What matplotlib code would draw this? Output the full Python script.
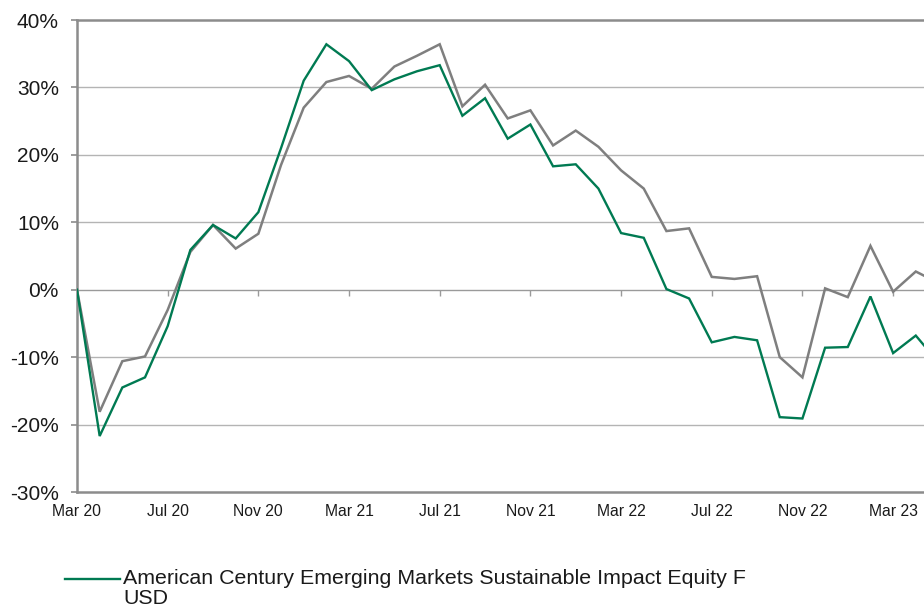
import matplotlib
matplotlib.use("Agg")
import matplotlib.pyplot as plt
from matplotlib.ticker import FuncFormatter, FixedLocator
from matplotlib.legend_handler import HandlerLine2D
from matplotlib.transforms import Affine2D

months = ["Mar 20", "Apr 20", "May 20", "Jun 20", "Jul 20", "Aug 20", "Sep 20", "Oct 20",
          "Nov 20", "Dec 20", "Jan 21", "Feb 21", "Mar 21", "Apr 21", "May 21", "Jun 21",
          "Jul 21", "Aug 21", "Sep 21", "Oct 21", "Nov 21", "Dec 21", "Jan 22", "Feb 22",
          "Mar 22", "Apr 22", "May 22", "Jun 22", "Jul 22", "Aug 22", "Sep 22", "Oct 22",
          "Nov 22", "Dec 22", "Jan 23", "Feb 23", "Mar 23", "Apr 23", "May 23"]

fund = [0, -21.7, -14.5, -13.0, -5.4, 5.9, 9.6, 7.6, 11.5, 21.0, 31.0, 36.4, 33.9, 29.6,
        31.2, 32.4, 33.3, 25.8, 28.4, 22.4, 24.5, 18.3, 18.6, 15.0, 8.4, 7.7, 0.1, -1.3,
        -7.8, -7.0, -7.5, -18.9, -19.1, -8.6, -8.5, -1.0, -9.4, -6.8, -10.8]

benchmark = [0, -18.1, -10.6, -9.9, -3.0, 5.6, 9.6, 6.1, 8.3, 18.5, 27.0, 30.8, 31.7, 29.8,
             33.1, 34.7, 36.4, 27.2, 30.4, 25.4, 26.6, 21.4, 23.6, 21.2, 17.7, 15.0, 8.7, 9.1,
             1.9, 1.6, 2.0, -10.0, -13.0, 0.2, -1.1, 6.5, -0.3, 2.7, 1.0]

fund_label = "American Century Emerging Markets Sustainable Impact Equity F\nUSD"
y_ticks = [-30, -20, -10, 0, 10, 20, 30, 40]

W, H = 924, 608
fig = plt.figure(figsize=(W / 100, H / 100), dpi=100)
left, right, top, bottom = 77, 924, 20, 492
ax = fig.add_axes([left / W, 1 - bottom / H, (right - left) / W, (bottom - top) / H])

x = list(range(len(months)))
px_per_month = 22.67
ax.set_xlim(0, (right - left) / px_per_month)
ax.set_ylim(-30, 40)

grid_c = "#B4B4B4"
axis_c = "#8C8C8C"
for v in y_ticks[1:-1]:
    if v != 0:
        ax.axhline(v, color=grid_c, lw=1.0, zorder=1)
ax.axhline(0, color="#9A9A9A", lw=1.0, zorder=1)

ax.plot(x, benchmark, color="#7F7F7F", lw=1.8, zorder=3, solid_joinstyle="miter")
ax.plot(x, fund, color="#007A52", lw=1.7, zorder=4, solid_joinstyle="miter",
        label=fund_label)

for s in ["left", "bottom", "top"]:
    ax.spines[s].set_color(axis_c)
    ax.spines[s].set_linewidth(1.8)
ax.spines["right"].set_visible(False)

fam = ["Liberation Sans", "DejaVu Sans"]
ax.yaxis.set_major_locator(FixedLocator(y_ticks))
ax.yaxis.set_major_formatter(FuncFormatter(lambda v, p: f"{int(v)}%"))
ax.tick_params(axis="y", length=4, width=1.2, color=axis_c, labelsize=15,
               labelcolor="#1A1A1A", pad=9)
for t in ax.get_yticklabels():
    t.set_family(fam)

tick_pos = list(range(0, len(months), 4))
ax.set_xticks(tick_pos)
ax.set_xticklabels([months[i] for i in tick_pos], family=fam,
                   fontsize=11.3, color="#1A1A1A")
ax.tick_params(axis="x", length=0, pad=9)

# tick marks on the zero line
sec = ax.secondary_xaxis(30 / 70)
sec.set_xticks(tick_pos)
sec.set_xticklabels([])
sec.tick_params(axis="x", direction="out", length=4, width=1, color="#9A9A9A")
sec.spines["bottom"].set_visible(False)
sec.spines["top"].set_visible(False)


class TopLineHandler(HandlerLine2D):
    def create_artists(self, legend, orig_handle, xdescent, ydescent, width, height,
                       fontsize, trans):
        arts = super().create_artists(legend, orig_handle, xdescent, ydescent, width,
                                      height, fontsize, trans)
        for a in arts:
            a.set_transform(a.get_transform() + Affine2D().translate(0, 10))
        return arts


leg = fig.legend(loc="upper left", bbox_to_anchor=(65 / W, 1 - 569 / H), frameon=False,
                 handlelength=2.57, handletextpad=0.14, borderaxespad=0, borderpad=0,
                 handler_map={matplotlib.lines.Line2D: TopLineHandler()},
                 prop={"family": fam, "size": 15.4})
for t in leg.get_texts():
    t.set_color("#1A1A1A")
    t.set_linespacing(1.1)

fig.savefig("out.png", dpi=100)
